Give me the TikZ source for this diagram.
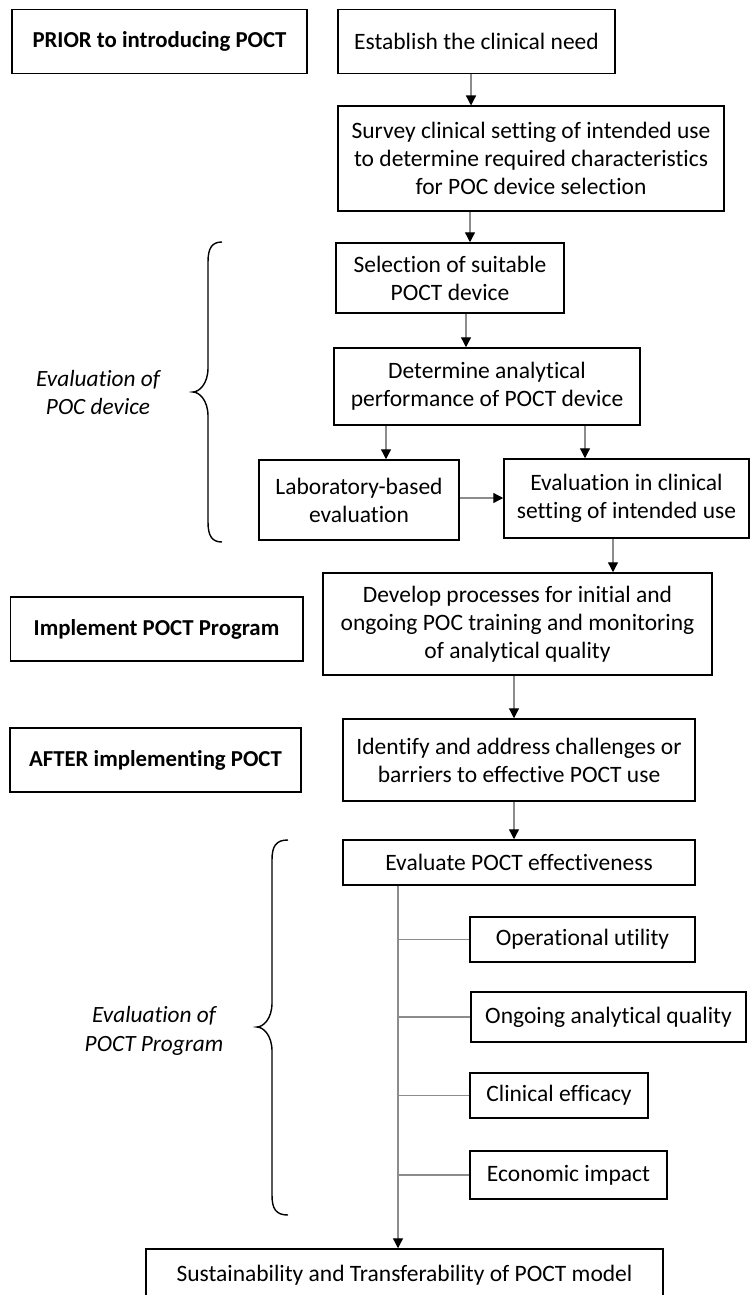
\documentclass[tikz,border=0pt]{standalone}
\usepackage{fontspec}
\setmainfont{Carlito}[Ligatures=NoCommon]
\usetikzlibrary{arrows.meta}
\definecolor{linegray}{RGB}{140,140,140}
\newcommand\drawbrace[6]{%
  \draw[bracestyle] (#1,#4) .. controls (#2+4,#4) and (#2,#4+6) .. (#2,#4+20)
    -- (#2,#5-24) .. controls (#2,#5-8) and (#3+6,#5) .. (#3,#5)
    .. controls (#3+6,#5) and (#2,#5+8) .. (#2,#5+24)
    -- (#2,#6-20) .. controls (#2,#6-6) and (#2+4,#6) .. (#1,#6);}
\begin{document}
\begin{tikzpicture}[x=1pt,y=-1pt,
  font=\fontsize{23.5}{28}\selectfont,
  box/.style={draw=black, line width=1.5pt, align=center, inner sep=0pt, fill=white},
  bbox/.style={box, font=\fontsize{22.8}{28}\selectfont\bfseries},
  lbl/.style={align=center, font=\fontsize{23.3}{28.5}\selectfont\itshape},
  arr/.style={draw=linegray, line width=1.3pt, -{Triangle[length=10pt,width=10pt,color=black,fill=black]}},
  link/.style={draw=linegray, line width=1.3pt},
  bracestyle/.style={draw=black, line width=1.4pt}]
\fill[white] (0,0) rectangle (750,1295);
\useasboundingbox (0,0) rectangle (750,1295);

% left labels
\node[bbox, minimum width=295pt, minimum height=64pt] (prior) at (159.5,41.5) {PRIOR to introducing POCT};
\node[bbox, minimum width=292.5pt, minimum height=64pt] (implement) at (156.5,629) {Implement POCT Program};
\node[bbox, minimum width=291pt, minimum height=64pt] (after) at (155.5,760) {AFTER implementing POCT};

% main flow
\node[box, minimum width=277pt, minimum height=64pt] (need) at (476.5,41.5) {Establish the clinical need};
\node[box, minimum width=386pt, minimum height=104.5pt] (survey) at (531,158.5) {Survey clinical setting of intended use\\to determine required characteristics\\for POC device selection};
\node[box, minimum width=228pt, minimum height=70pt] (select) at (450,278) {Selection of suitable\\POCT device};
\node[box, minimum width=306pt, minimum height=77pt] (determine) at (487,386.5) {Determine analytical\\performance of POCT device};
\node[box, minimum width=200pt, minimum height=80pt] (lab) at (359,500) {Laboratory-based\\evaluation};
\node[box, minimum width=245pt, minimum height=79pt] (evalclin) at (626.5,498.5) {Evaluation in clinical\\setting of intended use};
\node[box, minimum width=389pt, minimum height=102pt] (develop) at (517.5,624) {Develop processes for initial and\\ongoing POC training and monitoring\\of analytical quality};
\node[box, minimum width=352pt, minimum height=82pt] (identify) at (519,760) {Identify and address challenges or\\barriers to effective POCT use};
\node[box, minimum width=352pt, minimum height=45pt] (evaleff) at (519,862.5) {Evaluate POCT effectiveness};
\node[box, minimum width=225pt, minimum height=45pt] (oper) at (582.5,939.5) {Operational utility};
\node[box, minimum width=275pt, minimum height=50pt] (ongoing) at (608.5,1017) {Ongoing analytical quality};
\node[box, minimum width=178pt, minimum height=45pt] (clinical) at (559,1095.5) {Clinical efficacy};
\node[box, minimum width=197pt, minimum height=48pt] (economic) at (568.5,1175) {Economic impact};
\node[box, minimum width=517pt, minimum height=52pt] (sustain) at (404.5,1275) {Sustainability and Transferability of POCT model};

% italic labels
\node[lbl] (lbl1) at (98,392.5) {Evaluation of\\POC device};
\node[lbl] (lbl2) at (154,1031) {Evaluation of\\POCT Program};

% braces
\drawbrace{222}{208}{193}{242}{392}{542}
\drawbrace{288}{272}{257}{840}{1027}{1215}

% connectors
\draw[arr] (need.south -| 471,0) -- (survey.north -| 471,0);
\draw[arr] (survey.south -| 470,0) -- (select.north -| 470,0);
\draw[arr] (select.south -| 466,0) -- (determine.north -| 466,0);
\draw[arr] (determine.south -| 386,0) -- (lab.north -| 386,0);
\draw[arr] (determine.south -| 585,0) -- (evalclin.north -| 585,0);
\draw[arr] (lab.east |- 0,498) -- (evalclin.west |- 0,498);
\draw[arr] (evalclin.south -| 613,0) -- (develop.north -| 613,0);
\draw[arr] (develop.south -| 514,0) -- (identify.north -| 514,0);
\draw[arr] (identify.south -| 514,0) -- (evaleff.north -| 514,0);
\draw[arr] (evaleff.south -| 398,0) -- (sustain.north -| 398,0);
\draw[link] (oper.west) -- (oper.west -| 398,0);
\draw[link] (ongoing.west) -- (ongoing.west -| 398,0);
\draw[link] (clinical.west) -- (clinical.west -| 398,0);
\draw[link] (economic.west) -- (economic.west -| 398,0);
\end{tikzpicture}
\end{document}
